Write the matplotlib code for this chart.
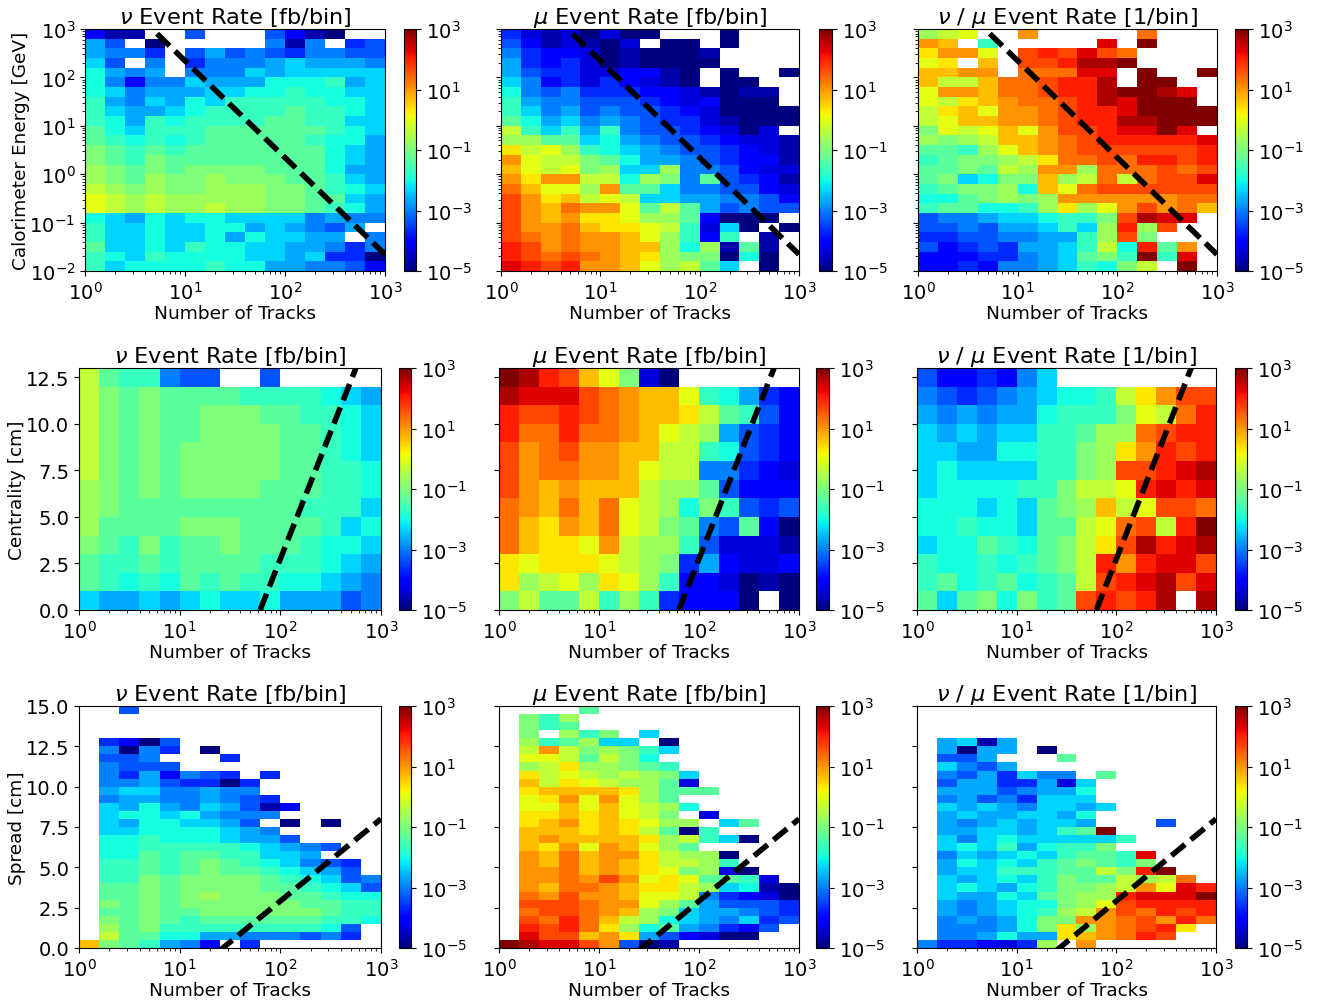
# Event rate maps for neutrino and muon samples
import numpy as np
import matplotlib
matplotlib.use('Agg')
import matplotlib.pyplot as plt
from matplotlib.colors import LogNorm

# Each row is one y bin, top row first, each letter is one x bin.
# a = 1e-5 and every next letter is a third of a decade more, . = empty bin
calo_nu = ["dbb..f...fdba..", "hf.a.....gbg.ef", "hgge.fhfgfeggff", "if.g.eggghihhhg", "jhgh.gggihiiiii",
           "jgdggihhhjjjkhi", "jighhhiijjkjjii", "khgihjikkkkkjji", "kihhijkkkklkkji", "kjhkjkkkkllkkii",
           "ljikkkllllllkji", "lkjkjklllllkjjh", "mlklkllllllljih", "mlkmlllllllljih", "nmlmlmmmmllljhh",
           "nmlnmmnmmmllkih", "onmnmmnnnmmlkji", "pononnnnnmmllih", "pononnonnmmlkjh", "jihjijjiiiighgg",
           "kiijiijjhihgfh.", "kiijiijhjiihh.g", "liijikjjiihhgeg", "kjikjjjjiihieea", "kijjjjkjjhhggfd"]
calo_mu = ["ecbcacaa...a...", "fdbcbac.aa.a...", "geddcabaaab....", "hedecabaaaa....", "hfeeccddba.a..a",
           "igdecedcba.aa..", "jgfgeeeddcbabb.", "khggfffedcdaaa.", "kighfgffedcaaaa", "ljhighgfeecbaaa",
           "okikhkgffedcac.", "nnllijhgffedccb", "qopnkjihgffedcb", "spoomljhhgfeddb", "rpopmniinggfdcc",
           "sqssoojnmglfedb", "trppnslliggffdc", "usqropoiihhggfd", "usrtssplolhfgff", "usrsqqpnnldaaa.",
           "usstrqqpokcia.a", "utstssrpnkdk.b.", "vustssrrnjnblb.", "vututsrqnmmaja.", "wvuvssrpnoli.a."]
calo_ratio = ["nop..s.....t...", "sr.k.....w.y...", "qssp.uvuwut....", "pq.r.uuvxxy....", "rrss.tttww.y..y",
              "roorttuvvx.yy..", "pssrttuvvxyyxw.", "poqrsttuvxwyyy.", "oqrpsstuvvwyyyy", "oprrsstuvvxxyyy",
              "mpoprpsuuvwwyw.", "nmnorrstuvvvvvw", "llknprstuuuuuuv", "klmmnoqttutvvuv", "llmlonssntttutu",
              "lmijmmrnototuuw", "klmmnjrptuuuuuu", "jjlmnmnsssssstt", "klljjknqnpsustr", "fgghiijkkmuxww.",
              "ffgfhhikinvnu..", "eeffgghhknum...", "fdefehhikojvls.", "dddeeghilmkykw.", "ddedgghikjmo.y."]

cent_nu = ["olkkgff..f.....", "omlmllllkkkkjih", "omlmllmmmllkkji", "omlmllmmmmllkji", "omlmlmmmmmllkji",
           "omlmlmmmmmllkkj", "nmlmlmmmmlllkkj", "nmlllllllllkkki", "nllllmmmllllkij", "mlkmkllmlllkjji",
           "lkklkllllkkkjih", "lkjkjlklkkjjihg", "ihhihijiijhhhfg"]
cent_mu = ["yxvurpmca......", "xwwwutsrrpkjhed", "vuuvutsrrqolkfd", "vttvttsrponhfed", "ustussrrookjfed",
           "usttssrpooggedc", "usrsrrronnlfddd", "tsrtrtponjmkfef", "trqsrtpomlgflda", "trqqpsonnkfcccb",
           "qpqqqponmehdccd", "qnopnqpnkddcaba", "molloknkeddda.a"]
cent_ratio = ["fddedgi........", "gfefghijjkoqsuu", "hghghhjkkkmpotv", "ihihiikklnntuvv", "iihhjjkkmnqsvuv",
              "ijiiiikkmnuuvwx", "ijjjjkkmoopvwvw", "jjjijilmnropuut", "jjkjjilloptuovy", "ijjlkjlmoquxvwx",
              "kjjkjklmovsvwwu", "kljkljklouvwxuw", "lilmjmkluvuvx.x"]

spread_nu = ["..f............", "...............", "...............", "...............", ".edaf..........",
             ".gage.a........", ".ffg...e.......", ".gfff..........", ".gehdgfe.e.....", ".gghfeeae......",
             ".hiigghgg......", ".ghhgghgfe.....", ".ihjhgihfbd....", ".ijjijhggg.....", ".ihjjiihf.a.a..",
             ".iijjjjihg.....", ".jjkjjjihhf....", ".jjkkkkkjihgf..", ".jjlkllkkiih...", ".kklklmlkjigfe.",
             ".kklklmllkjihf.", ".kkmlmmmmlkjifg", ".llmlmmmmllkjif", ".llmlmnmmmllkjj", ".mlmlmmmmmmllkk",
             ".llmllmmmmmmlkk", ".mlmlkllllllkkj", ".nlmkkkkkkkkjf.", ".olljjhhgggfge.", "rmlkhgd.e......"]
spread_mu = ["....l..........", ".mkn...........", ".mkl...........", ".m.nkm.i.......", ".nklnii.a......",
             ".osomnmki......", ".ppolomj.......", ".noqnnmlk......", ".qopononmi.....", ".roqponnlc.....",
             ".qrrrrqnlll....", ".pqspspnl......", ".pprprponj.....", ".qqrqrpom.c....", ".qrsqrqpnn.il..",
             ".rrrqrqolak....", ".rsrrrrqnokia..", ".rqspsrpnl.....", ".srtrssqonna...", ".srtrsrqoonk...",
             ".sstrsrqpmnca..", ".sstsuspqpllkc.", ".srttsrqqonijba", ".tsussrppogedca", ".uuutsspnlhfffe",
             ".tuutsrnmihhgfe", ".utvtronjihgief", ".vuvtqnjlhgedf.", ".wuursqhfdcaa..", "yxwwusfab......"]
spread_ratio = ["...............", "...............", "...............", "...............", ".hibh..........",
                ".hahh.a........", ".ffh...l.......", ".igfh..........", ".gfheigg.l.....", ".fhheehci......",
                ".hhhfghhj......", ".ghfgeiii......", ".ihihgiihi.....", ".hihhiihj......", ".hghihiih...f..",
                ".hhiihikly.....", ".igijiiiiik....", ".ijikhjkkm.....", ".gihijikllkw...", ".hjijiklmlkm...",
                ".hiikkkllomvy..", ".ihijikmllonot.", ".ijihjkmmnospwv", ".ihhjilmnnvwwwy", ".hghijjmnpuvvvv",
                ".hghijknosutvuv", ".ghghjmmsstusvt", ".ggghjmqnstuvq.", ".gghjhhqrstvu..", "geedcen.s......"]

titles = [r'$\nu$ Event Rate [fb/bin]', r'$\mu$ Event Rate [fb/bin]', r'$\nu$ / $\mu$ Event Rate [1/bin]']
ylabels = ['Calorimeter Energy [GeV]', 'Centrality [cm]', 'Spread [cm]']
xlabel = 'Number of Tracks'

# dashed selection lines
cut_x = [[5.25, 1000], [63, 1000], [24.5, 1000]]
cut_y = [[800, 0.022], [0, 16.4], [-0.2, 8]]

def decode(rows):
    letters = 'abcdefghijklmnopqrstuvwxy'
    out = np.full((len(rows), 15), np.nan)
    for i, row in enumerate(rows):
        assert len(row) == 15, row
        for j, c in enumerate(row):
            if c != '.':
                out[i, j] = 10 ** (-5 + letters.index(c) / 3)
    return out[::-1]

panels = [[calo_nu, calo_mu, calo_ratio],
          [cent_nu, cent_mu, cent_ratio],
          [spread_nu, spread_mu, spread_ratio]]
x_edges = np.logspace(0, 3, 16)
y_edges = [np.logspace(-2, 3, 26), np.arange(0, 14), np.arange(0, 15.5, 0.5)]

plt.rcParams['font.size'] = 14
W, H = 1322, 1004
fig = plt.figure(figsize=(W / 100, H / 100), dpi=100)

# pixel boxes: left, right of axes then left, right of colorbar
boxes = [[(85, 385, 404, 416), (501, 799, 819, 832), (918, 1217, 1235, 1248)],
         [(79, 381, 399, 411), (499, 799, 816, 829), (917, 1216, 1235, 1247)],
         [(79, 381, 399, 411), (499, 799, 816, 829), (917, 1216, 1235, 1247)]]
tops = [(30, 272), (369, 611), (707, 949)]

for r in range(3):
    top, bottom = tops[r]
    y = (H - bottom) / H
    h = (bottom - top) / H
    for c in range(3):
        x0, x1, c0, c1 = boxes[r][c]
        ax = fig.add_axes([x0 / W, y, (x1 - x0) / W, h])
        mesh = ax.pcolormesh(x_edges, y_edges[r], decode(panels[r][c]), cmap='jet',
                             norm=LogNorm(vmin=1e-5, vmax=1e3))
        ax.plot(cut_x[r], cut_y[r], 'k', lw=4, dashes=(3.15, 1.36))
        ax.set_xscale('log')
        ax.set_xlim(1, 1000)
        if r == 0:
            ax.set_yscale('log')
            ax.set_ylim(1e-2, 1e3)
            ax.set_yticks([1e-2, 1e-1, 1, 10, 100, 1000])
        elif r == 1:
            ax.set_ylim(0, 13)
            ax.set_yticks([0, 2.5, 5, 7.5, 10, 12.5])
        else:
            ax.set_ylim(0, 15)
            ax.set_yticks([0, 2.5, 5, 7.5, 10, 12.5, 15])
        if c == 0:
            ax.set_ylabel(ylabels[r], fontsize=13.3, labelpad=-0.5)
        else:
            ax.tick_params(labelleft=False)
        ax.set_xlabel(xlabel, fontsize=13.3, labelpad=1)
        ax.set_title(titles[c], fontsize=16.2, pad=4)
        cax = fig.add_axes([c0 / W, y, (c1 - c0) / W, h])
        cb = fig.colorbar(mesh, cax=cax)
        cb.set_ticks([1e-5, 1e-3, 1e-1, 10, 1000])
        cb.ax.minorticks_off()

fig.savefig('out.png', dpi=100)
